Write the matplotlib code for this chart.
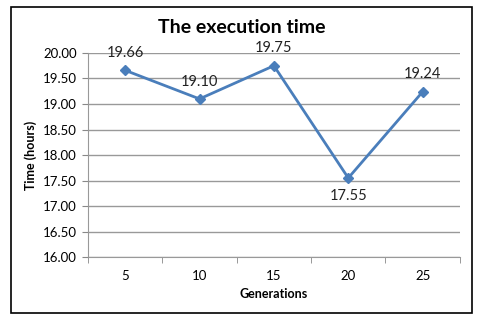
import matplotlib.pyplot as plt
from matplotlib.patches import Rectangle
import numpy as np

generations = ['5', '10', '15', '20', '25']
hours = [19.66, 19.10, 19.75, 17.55, 19.24]
label_below = [False, False, False, True, False]

plt.rcParams['font.family'] = ['Lato', 'DejaVu Sans']

fig = plt.figure(figsize=(4.78, 3.21), dpi=100)
ax = fig.add_axes([0.184, 0.199, 0.778, 0.636])

x = np.arange(len(generations))
ax.plot(x, hours, color='#4A7EBB', lw=2, marker='D', ms=5)

for xi, v, below in zip(x, hours, label_below):
    if below:
        ax.annotate(f'{v:.2f}', (xi, v), xytext=(0, -13), textcoords='offset points',
                    ha='center', va='center', fontsize=10.5, color='#222222')
    else:
        ax.annotate(f'{v:.2f}', (xi, v), xytext=(0, 12.5), textcoords='offset points',
                    ha='center', va='center', fontsize=10.5, color='#222222')

ax.set_xlim(-0.5, len(generations) - 0.5)
ax.set_ylim(16, 20)
ax.set_yticks(np.arange(16, 20.01, 0.5))
ax.set_yticklabels([f'{t:.2f}' for t in np.arange(16, 20.01, 0.5)], fontsize=9.5)
ax.set_xticks(x)
ax.set_xticklabels(generations, fontsize=9.5)
ax.set_xticks(np.arange(-0.5, len(generations)), minor=True)
ax.tick_params(axis='x', which='major', length=0, pad=9)
ax.tick_params(axis='x', which='minor', length=4, color='#888888', direction='out')
ax.tick_params(axis='y', length=4, color='#888888', pad=4)
ax.grid(axis='y', color='#999999', lw=1)
ax.set_axisbelow(True)
for s in ['top', 'right']:
    ax.spines[s].set_visible(False)
ax.spines['left'].set_color('#999999')
ax.spines['bottom'].set_color('#999999')

ax.set_xlabel('Generations', fontsize=9, fontweight='bold', labelpad=4.5)
ax.set_ylabel('Time (hours)', fontsize=9, fontweight='bold', labelpad=4)
fig.text(0.505, 0.915, 'The execution time', ha='center', va='center',
         fontsize=14, fontweight='bold')

fig.patches.append(Rectangle((0.023, 0.025), 0.964, 0.953, transform=fig.transFigure,
                             fill=False, edgecolor='black', lw=1.2))

fig.savefig('out.png', dpi=100)
